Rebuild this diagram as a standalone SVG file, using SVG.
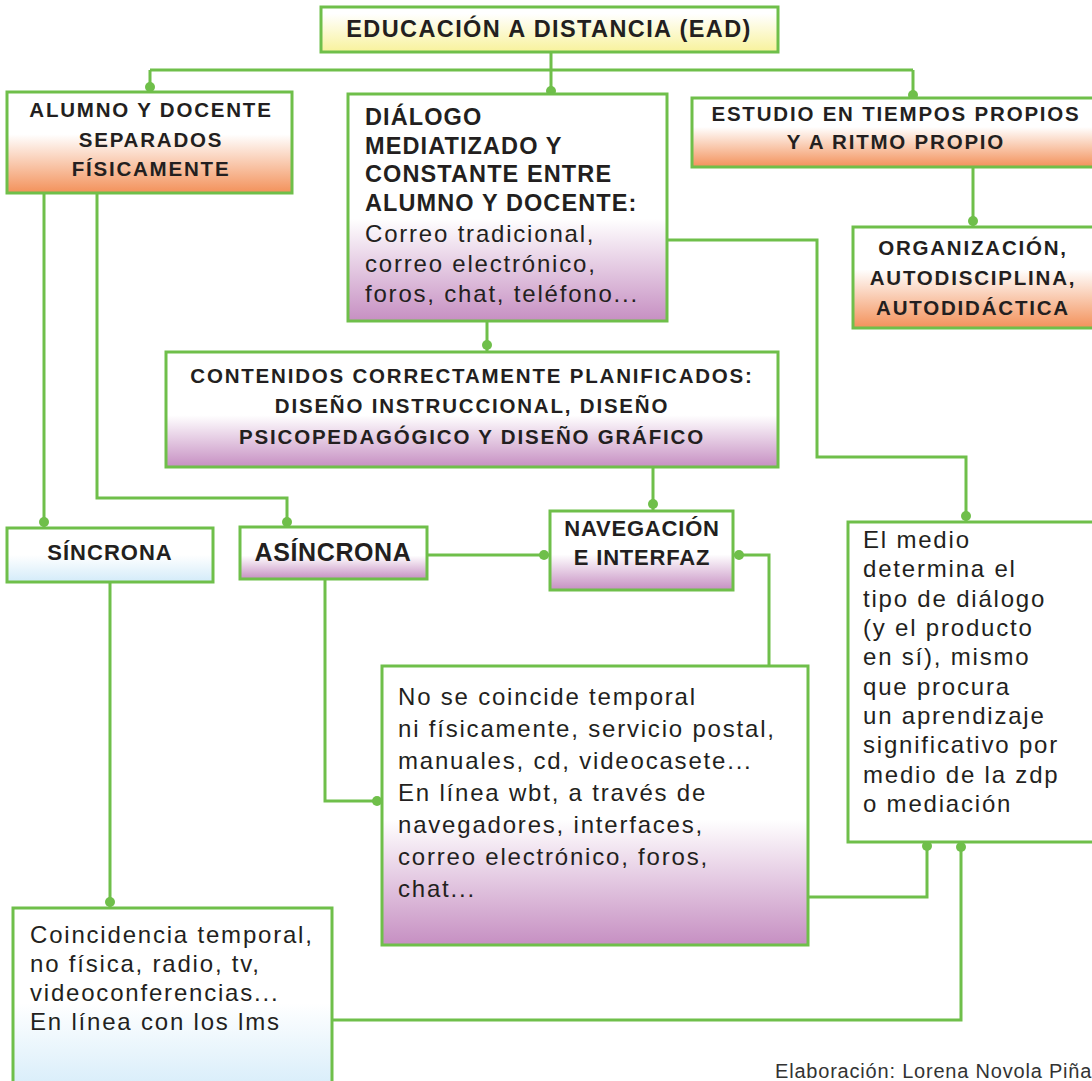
<svg xmlns="http://www.w3.org/2000/svg" width="1092" height="1081" viewBox="0 0 1092 1081">
  <defs>
    <linearGradient id="gYellow" x1="0" y1="0" x2="0" y2="1">
      <stop offset="0.15" stop-color="#ffffff"/>
      <stop offset="1" stop-color="#f8f29b"/>
    </linearGradient>
    <linearGradient id="gOrange" x1="0" y1="0" x2="0" y2="1">
      <stop offset="0.42" stop-color="#ffffff"/>
      <stop offset="1" stop-color="#f3915a"/>
    </linearGradient>
    <linearGradient id="gPurple" x1="0" y1="0" x2="0" y2="1">
      <stop offset="0.55" stop-color="#ffffff"/>
      <stop offset="1" stop-color="#c68fc2"/>
    </linearGradient>
    <linearGradient id="gBlue" x1="0" y1="0" x2="0" y2="1">
      <stop offset="0.5" stop-color="#ffffff"/>
      <stop offset="1" stop-color="#d3ebf9"/>
    </linearGradient>
  </defs>
  <style>
    .box { stroke: #6fbf4a; stroke-width: 3; }
    .wire { fill: none; stroke: #6fbf4a; stroke-width: 3; }
    .dot { fill: #6fbf4a; }
    text { font-family: "Liberation Sans", Arial, sans-serif; fill: #231f20; }
    .hd { font-weight: bold; font-size: 20.5px; letter-spacing: 1.8px; text-anchor: middle; }
    .hb { font-weight: bold; font-size: 23.5px; letter-spacing: 1.1px; }
    .tx { font-size: 24px; letter-spacing: 1.8px; }
    .credit { font-size: 20px; letter-spacing: 0.8px; fill: #333333; }
  </style>

  <rect width="1092" height="1081" fill="#ffffff"/>

  <!-- connectors -->
  <g id="connectors">
    <path class="wire" d="M551 52 V94 M150 70 H913 M150 70 V92 M913 70 V98"/>
    <path class="wire" d="M44 193 V528 M97 193 V498 H287 V527"/>
    <path class="wire" d="M110 582 V908"/>
    <path class="wire" d="M325 579 V801 H382"/>
    <path class="wire" d="M427 555 H550 M733 555 H769 V666"/>
    <path class="wire" d="M487 321 V352 M653 467 V511 M973 167 V227"/>
    <path class="wire" d="M667 240 H817 V457 H966 V522"/>
    <path class="wire" d="M808 897 H927 V842 M332 1020 H961 V842"/>
    <circle class="dot" cx="551" cy="91" r="5"/>
    <circle class="dot" cx="150" cy="87" r="5"/>
    <circle class="dot" cx="913" cy="95" r="5"/>
    <circle class="dot" cx="44" cy="522" r="5"/>
    <circle class="dot" cx="287" cy="522" r="5"/>
    <circle class="dot" cx="110" cy="902" r="5"/>
    <circle class="dot" cx="377" cy="801" r="5"/>
    <circle class="dot" cx="544" cy="555" r="5"/>
    <circle class="dot" cx="739" cy="555" r="5"/>
    <circle class="dot" cx="487" cy="345" r="5"/>
    <circle class="dot" cx="653" cy="504" r="5"/>
    <circle class="dot" cx="973" cy="221" r="5"/>
    <circle class="dot" cx="966" cy="516" r="5"/>
    <circle class="dot" cx="927" cy="846" r="5"/>
    <circle class="dot" cx="961" cy="847" r="5"/>
  </g>

  <g id="ead">
    <rect class="box" x="321" y="7" width="457" height="45" fill="url(#gYellow)"/>
    <text class="hb" x="549" y="37" text-anchor="middle" style="letter-spacing:1.4px">EDUCACIÓN A DISTANCIA (EAD)</text>
  </g>

  <g id="separados">
    <rect class="box" x="7" y="92" width="285" height="101" fill="url(#gOrange)"/>
    <text class="hd" x="151" y="117">ALUMNO Y DOCENTE</text>
    <text class="hd" x="151" y="147">SEPARADOS</text>
    <text class="hd" x="151" y="176">FÍSICAMENTE</text>
  </g>

  <g id="dialogo">
    <rect class="box" x="348" y="94" width="319" height="227" fill="url(#gPurple)"/>
    <text class="hb" x="365" y="125">DIÁLOGO</text>
    <text class="hb" x="365" y="154">MEDIATIZADO Y</text>
    <text class="hb" x="365" y="182">CONSTANTE ENTRE</text>
    <text class="hb" x="365" y="211">ALUMNO Y DOCENTE:</text>
    <text class="tx" x="365" y="242">Correo tradicional,</text>
    <text class="tx" x="365" y="272">correo electrónico,</text>
    <text class="tx" x="365" y="302">foros, chat, teléfono...</text>
  </g>

  <g id="ritmo">
    <rect class="box" x="692" y="98" width="410" height="69" fill="url(#gOrange)"/>
    <text class="hd" x="896" y="121">ESTUDIO EN TIEMPOS PROPIOS</text>
    <text class="hd" x="896" y="149">Y A RITMO PROPIO</text>
  </g>

  <g id="organizacion">
    <rect class="box" x="853" y="227" width="249" height="101" fill="url(#gOrange)"/>
    <text class="hd" x="973" y="255">ORGANIZACIÓN,</text>
    <text class="hd" x="973" y="285">AUTODISCIPLINA,</text>
    <text class="hd" x="973" y="315">AUTODIDÁCTICA</text>
  </g>

  <g id="contenidos">
    <rect class="box" x="166" y="352" width="612" height="115" fill="url(#gPurple)"/>
    <text class="hd" x="472" y="383">CONTENIDOS CORRECTAMENTE PLANIFICADOS:</text>
    <text class="hd" x="472" y="413">DISEÑO INSTRUCCIONAL, DISEÑO</text>
    <text class="hd" x="472" y="444">PSICOPEDAGÓGICO Y DISEÑO GRÁFICO</text>
  </g>

  <g id="sincrona">
    <rect class="box" x="7" y="528" width="206" height="54" fill="url(#gBlue)"/>
    <text class="hb" x="110" y="560" text-anchor="middle" style="font-size:22px;letter-spacing:1px">SÍNCRONA</text>
  </g>

  <g id="asincrona">
    <rect class="box" x="240" y="527" width="187" height="52" fill="url(#gPurple)"/>
    <text class="hb" x="333" y="561" text-anchor="middle" style="font-size:25px;letter-spacing:0.6px">ASÍNCRONA</text>
  </g>

  <g id="navegacion">
    <rect class="box" x="550" y="511" width="183" height="79" fill="url(#gPurple)"/>
    <text class="hb" x="642" y="536" text-anchor="middle" style="font-size:22px;letter-spacing:0.8px">NAVEGACIÓN</text>
    <text class="hb" x="642" y="565" text-anchor="middle" style="font-size:22px;letter-spacing:0.8px">E INTERFAZ</text>
  </g>

  <g id="asincrona-medios">
    <rect class="box" x="382" y="666" width="426" height="279" fill="url(#gPurple)"/>
    <text class="tx" x="398" y="705">No se coincide temporal</text>
    <text class="tx" x="398" y="737">ni físicamente, servicio postal,</text>
    <text class="tx" x="398" y="769">manuales, cd, videocasete...</text>
    <text class="tx" x="398" y="801">En línea wbt, a través de</text>
    <text class="tx" x="398" y="833">navegadores, interfaces,</text>
    <text class="tx" x="398" y="865">correo electrónico, foros,</text>
    <text class="tx" x="398" y="897">chat...</text>
  </g>

  <g id="medio">
    <rect class="box" x="848" y="522" width="254" height="320" fill="#ffffff"/>
    <text class="tx" x="863" y="548">El medio</text>
    <text class="tx" x="863" y="577">determina el</text>
    <text class="tx" x="863" y="607">tipo de diálogo</text>
    <text class="tx" x="863" y="636">(y el producto</text>
    <text class="tx" x="863" y="665">en sí), mismo</text>
    <text class="tx" x="863" y="695">que procura</text>
    <text class="tx" x="863" y="724">un aprendizaje</text>
    <text class="tx" x="863" y="753">significativo por</text>
    <text class="tx" x="863" y="783">medio de la zdp</text>
    <text class="tx" x="863" y="812">o mediación</text>
  </g>

  <g id="sincrona-medios">
    <rect class="box" x="13" y="908" width="319" height="190" fill="url(#gBlue)"/>
    <text class="tx" x="30" y="943">Coincidencia temporal,</text>
    <text class="tx" x="30" y="972">no física, radio, tv,</text>
    <text class="tx" x="30" y="1001">videoconferencias...</text>
    <text class="tx" x="30" y="1030">En línea con los lms</text>
  </g>

  <text class="credit" x="775" y="1078">Elaboración: Lorena Novola Piña</text>
</svg>
